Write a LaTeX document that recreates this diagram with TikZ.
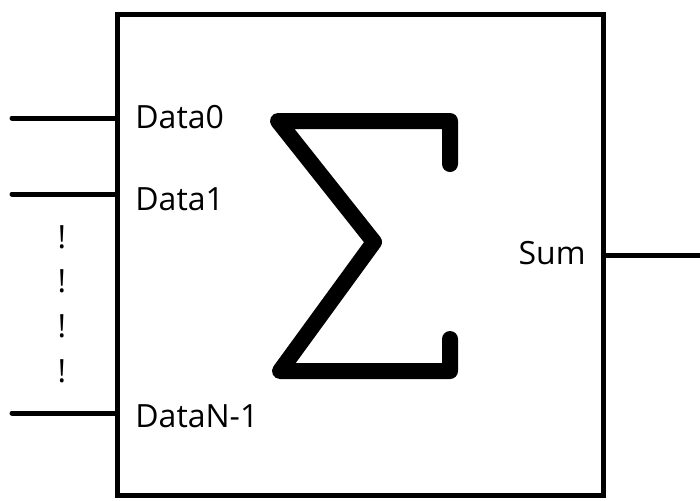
\documentclass[tikz,border=0pt]{standalone}
\usepackage{fontspec}
\setmainfont{Open Sans}
\usetikzlibrary{positioning,calc}
\tikzset{
  blk/.style={draw=black, line width=2.5pt, minimum width=243pt, minimum height=240.5pt, inner sep=0pt},
  wire/.style={line width=2.5pt, line cap=round},
  pin/.style={font=\fontsize{16}{18}\selectfont, inner sep=0pt, anchor=west},
  sigma/.style={line width=8pt, line cap=round, line join=round},
}
\begin{document}
\begin{tikzpicture}[x=0.5pt,y=-0.5pt]
  \useasboundingbox (0,0) rectangle (700,500);
  % adder block
  \node[blk] (adder) at (360,254.5) {};
  % inputs
  \coordinate (in0) at (12,118);
  \coordinate (in1) at (12,194);
  \coordinate (inN) at (12,413);
  \draw[wire] (in0) -- (in0 -| adder.west);
  \draw[wire] (in1) -- (in1 -| adder.west);
  \draw[wire] (inN) -- (inN -| adder.west);
  \node[pin] (d0) at (135,117) {Data0};
  \node[pin] (d1) at (135,199) {Data1};
  \node[pin] (dN) at (135,416) {DataN-1};
  % dots
  \foreach \y [count=\k] in {237,281,326,371}
    \node[pin, anchor=center] (dot\k) at (62,\y) {!};
  % output
  \coordinate (out) at (700,255);
  \draw[wire, line cap=butt] (out -| adder.east) -- (out);
  \node[pin, anchor=east] (sum) at (586,253) {Sum};
  % sigma
  \draw[sigma] (450,164) -- (450,121) -- (278,121) -- (374,242)
               -- (280,371) -- (450,371) -- (450,339);
\end{tikzpicture}
\end{document}
